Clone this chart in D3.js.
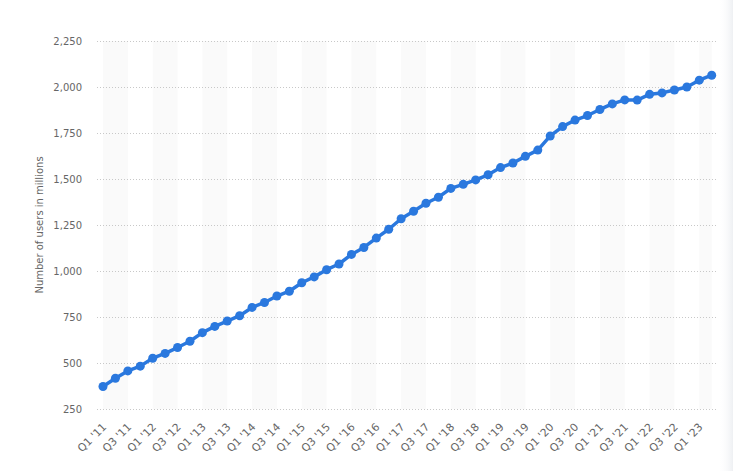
<!DOCTYPE html>
<html>
<head>
<meta charset="utf-8">
<script src="https://cdn.jsdelivr.net/npm/d3@7"></script>
<style>
html,body{margin:0;padding:0;background:#fff;}
svg{display:block;}
</style>
</head>
<body>
<svg id="chart" width="733" height="471"></svg>
<script>
const categories = ["Q1 '11","Q2 '11","Q3 '11","Q4 '11","Q1 '12","Q2 '12","Q3 '12","Q4 '12","Q1 '13","Q2 '13","Q3 '13","Q4 '13","Q1 '14","Q2 '14","Q3 '14","Q4 '14","Q1 '15","Q2 '15","Q3 '15","Q4 '15","Q1 '16","Q2 '16","Q3 '16","Q4 '16","Q1 '17","Q2 '17","Q3 '17","Q4 '17","Q1 '18","Q2 '18","Q3 '18","Q4 '18","Q1 '19","Q2 '19","Q3 '19","Q4 '19","Q1 '20","Q2 '20","Q3 '20","Q4 '20","Q1 '21","Q2 '21","Q3 '21","Q4 '21","Q1 '22","Q2 '22","Q3 '22","Q4 '22","Q1 '23","Q2 '23"];
const users = [372,417,457,483,526,552,584,618,665,699,728,757,802,829,864,890,936,968,1007,1038,1090,1128,1179,1227,1284,1325,1368,1401,1449,1471,1495,1523,1562,1587,1623,1657,1734,1785,1820,1845,1878,1908,1930,1929,1960,1968,1984,2000,2037,2064];
const yTicks = [250,500,750,1000,1250,1500,1750,2000,2250];
const yTitle = "Number of users in millions";

const svg = d3.select("#chart");
const font = "'DejaVu Sans', Verdana, sans-serif";

// right edge soft shadow
const defs = svg.append("defs");
const grad = defs.append("linearGradient").attr("id","edge").attr("x1","0").attr("x2","1");
grad.append("stop").attr("offset","0").attr("stop-color","#ffffff").attr("stop-opacity",0);
grad.append("stop").attr("offset","1").attr("stop-color","#eef0f3").attr("stop-opacity",1);
svg.append("rect").attr("x",718).attr("y",0).attr("width",15).attr("height",471).attr("fill","url(#edge)");

const x = d3.scaleLinear().domain([0, categories.length - 1]).range([103, 711.7]);
const y = d3.scaleLinear().domain([250, 2250]).range([409, 41]);

// alternating bands
const bandIdx = d3.range(0, categories.length, 4);
svg.append("g").selectAll("rect").data(bandIdx).join("rect")
  .attr("x", d => x(d))
  .attr("y", y(2250))
  .attr("width", d => Math.min(x(d + 2), x(categories.length - 1)) - x(d))
  .attr("height", y(250) - y(2250))
  .attr("fill", "#fafafa");

// grid lines
svg.append("g").selectAll("line").data(yTicks).join("line")
  .attr("x1", 97).attr("x2", 718)
  .attr("y1", d => Math.round(y(d)) + 0.5).attr("y2", d => Math.round(y(d)) + 0.5)
  .attr("stroke", "#c8c8c8").attr("stroke-width", 1).attr("stroke-dasharray", "1,2");

// y axis labels
const yAxis = d3.axisLeft(y).tickValues(yTicks).tickFormat(d3.format(",")).tickSize(0).tickPadding(0);
const gy = svg.append("g").attr("transform", "translate(82,0)").call(yAxis);
gy.select(".domain").remove();
gy.selectAll("text").attr("font-family", font).attr("font-size", 10).attr("fill", "#666").attr("dy", "0.35em");

// x axis labels
const xAxis = d3.axisBottom(x).tickValues(d3.range(0, categories.length, 2)).tickFormat(i => categories[i]).tickSize(0).tickPadding(0);
const gx = svg.append("g").attr("transform", "translate(0,420)").call(xAxis);
gx.select(".domain").remove();
gx.selectAll("text")
  .attr("font-family", font).attr("font-size", 10.8).attr("fill", "#666")
  .attr("text-anchor", "end").attr("dy", "0.35em").attr("y", 0)
  .attr("transform", "translate(1,5) rotate(-45)");

// y title
svg.append("text")
  .attr("transform", "translate(43,225) rotate(-90)")
  .attr("text-anchor", "middle")
  .attr("font-family", font).attr("font-size", 10).attr("fill", "#666")
  .text(yTitle);

// line
const line = d3.line().x((d, i) => x(i)).y(d => y(d));
svg.append("path").datum(users)
  .attr("d", line).attr("fill", "none")
  .attr("stroke", "#2a78de").attr("stroke-width", 3.5).attr("stroke-linejoin", "round");

svg.append("g").selectAll("circle").data(users).join("circle")
  .attr("cx", (d, i) => x(i)).attr("cy", d => y(d)).attr("r", 4.5)
  .attr("fill", "#2a78de");
</script>
</body>
</html>
